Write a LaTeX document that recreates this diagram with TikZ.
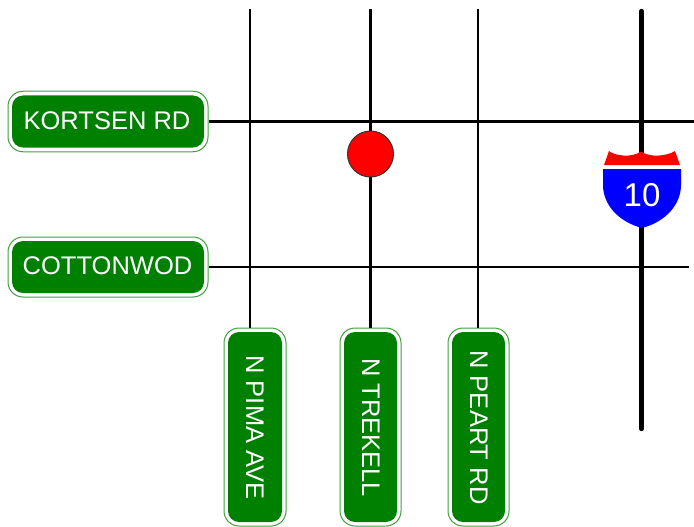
\documentclass[tikz,border=0pt]{standalone}
\usepackage{fontspec}
\setmainfont{Liberation Sans}
\definecolor{signgreen}{RGB}{0,128,0}
\tikzset{
  road/.style={draw=black,line width=2.3pt},
  freeway/.style={draw=black,line width=4.4pt,line cap=round},
  signout/.style={draw=signgreen!75,fill=white,line width=1pt,rounded corners=15pt,inner sep=0pt},
  signin/.style={fill=signgreen,text=white,rounded corners=11pt,inner sep=0pt,font=\fontsize{25.5}{25.5}\selectfont},
}
\begin{document}
\begin{tikzpicture}[x=1pt,y=1pt]
\useasboundingbox (0,0) rectangle (694,-527);
% horizontal signs
\node[signout,minimum width=200pt,minimum height=60.5pt] (kortsen) at (108,-121.5) {};
\node[signin,minimum width=192pt,minimum height=52pt] (kortsenin) at (108,-121.5) {};
\node[signout,minimum width=200pt,minimum height=60pt] (cotton) at (108,-267) {};
\node[signin,minimum width=192pt,minimum height=52pt] (cottonin) at (108,-267) {};
\node[signin,fill=none] (kortsentxt) at (107,-120.5) {KORTSEN RD};
\node[signin,fill=none] (cottontxt) at (107.5,-266) {COTTONWOD};
% vertical signs
\node[signout,minimum width=62pt,minimum height=198pt] (pima) at (255,-427) {};
\node[signin,minimum width=54pt,minimum height=190pt] (pimain) at (255,-427) {};
\node[signout,minimum width=61pt,minimum height=198pt] (trekell) at (370.5,-427) {};
\node[signin,minimum width=53pt,minimum height=190pt] (trekellin) at (370.5,-427) {};
\node[signout,minimum width=61pt,minimum height=198pt] (peart) at (478.5,-427) {};
\node[signin,minimum width=53pt,minimum height=190pt] (peartin) at (478.5,-427) {};
\node[signin,fill=none,rotate=-90] (pimatxt) at (255,-427.5) {N PIMA AVE};
\node[signin,fill=none,rotate=-90] (trekelltxt) at (371,-427.5) {N TREKELL};
\node[signin,fill=none,rotate=-90] (pearttxt) at (479,-427.5) {N PEART RD};
% roads
\coordinate (kortsenend) at (694,-121.5);
\coordinate (cottonend) at (689,-267);
\coordinate (pimaend) at (250.3,-9);
\coordinate (trekellend) at (370.5,-9);
\coordinate (peartend) at (478.3,-9);
\coordinate (tena) at (641.5,-11);
\coordinate (tenb) at (641.5,-429);
\draw[road] (kortsen.east)--(kortsenend);
\draw[road] (cotton.east)--(cottonend);
\draw[road] (pimaend)--(pimaend|-pima.north);
\draw[road] (trekellend)--(trekell.north);
\draw[road] (peartend)--(peartend|-peart.north);
\draw[freeway] (tena)--(tenb);
% stop
\node[circle,draw=black!80,fill=red,line width=1pt,minimum size=46pt,inner sep=0pt] (stop) at (370.5,-154) {};
% shield
\fill[white] (603,-163)rectangle(681,-171);
\fill[red] (604,-165)--(609,-151)..controls (615,-156) and (632,-158) ..(641,-151.5)..controls (650,-158) and (667,-156) ..(675,-151)--(680,-165)--cycle;
\fill[blue] (603,-169)--(681,-169)--(681,-185)..controls (681,-205) and (665,-222) ..(642,-228)..controls (619,-222) and (603,-205) ..(603,-185)--cycle;
\node[text=white,inner sep=0pt,font=\fontsize{33}{33}\selectfont] (shieldten) at (642,-195) {10};
\end{tikzpicture}
\end{document}
